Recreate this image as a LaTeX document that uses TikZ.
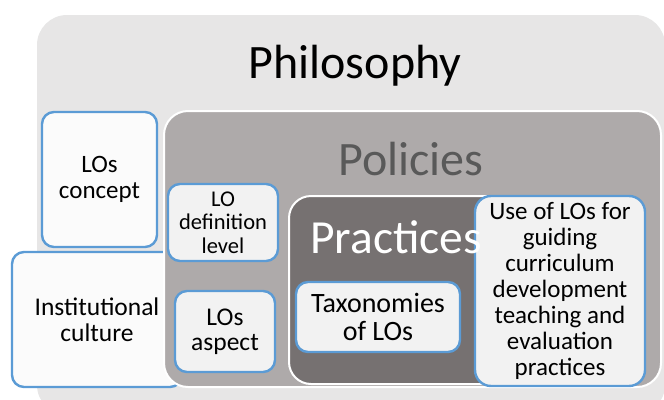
\documentclass[tikz,border=0pt]{standalone}
\usepackage{fontspec}
\setmainfont{Carlito}
\usetikzlibrary{positioning}

\definecolor{philofill}{HTML}{E7E6E6}
\definecolor{policyfill}{HTML}{AEAAAA}
\definecolor{practfill}{HTML}{767171}
\definecolor{policytext}{HTML}{595959}
\definecolor{loblue}{HTML}{5B9BD5}
\definecolor{lofill}{HTML}{F2F2F2}
\definecolor{lofilllight}{HTML}{FBFBFB}

\begin{document}
\begin{tikzpicture}[x=1pt,y=-1pt,
    layer/.style={rectangle,anchor=north west,inner sep=0pt,draw=white,line width=2pt},
    lobox/.style={rectangle,draw=loblue,line width=2.4pt,rounded corners=12pt,fill=lofill,
      align=center,inner sep=0pt,font=\fontsize{25}{26}\selectfont}]

  \clip (0,0) rectangle (664,399);

  \node[layer,draw=none,fill=philofill,rounded corners=30pt,minimum width=628pt,minimum height=400pt] (philo) at (36,14) {};
  \node[anchor=base,font=\fontsize{48}{52}\selectfont] (philotitle) at (355,78) {Philosophy};

  \node[lobox,fill=lofilllight,minimum width=115pt,minimum height=135pt] (concept) at (99.5,179.5) {LOs\\concept};
  \node[lobox,fill=lofilllight,minimum width=170pt,minimum height=135pt,font=\fontsize{25.5}{26}\selectfont] (culture) at (97,319.5) {Institutional\\culture};

  \node[layer,fill=policyfill,rounded corners=24pt,minimum width=497pt,minimum height=276pt] (policies) at (163,110) {};
  \node[anchor=base,text=policytext,font=\fontsize{48}{52}\selectfont] (policytitle) at (411,175) {Policies};

  \node[lobox,minimum width=110pt,minimum height=77pt,font=\fontsize{22.5}{23.5}\selectfont] (deflevel) at (223,222.5) {LO\\definition\\level};
  \node[lobox,minimum width=100pt,minimum height=81pt,font=\fontsize{25.5}{25}\selectfont] (aspect) at (225,331.5) {LOs\\aspect};

  \node[layer,fill=practfill,rounded corners=22pt,minimum width=355pt,minimum height=188pt] (practices) at (288,195) {};

  \node[lobox,minimum width=164pt,minimum height=70pt,font=\fontsize{28}{28}\selectfont] (taxonomies) at (378,317) {Taxonomies\\of LOs};
  \node[lobox,rounded corners=16pt,minimum width=170pt,minimum height=190pt] (useoflos) at (560,291)
    {Use of LOs for\\guiding\\curriculum\\development\\teaching and\\evaluation\\practices};

  \node[anchor=base,text=white,font=\fontsize{47.5}{52}\selectfont] (practicetitle) at (396,253) {Practices};

\end{tikzpicture}
\end{document}
